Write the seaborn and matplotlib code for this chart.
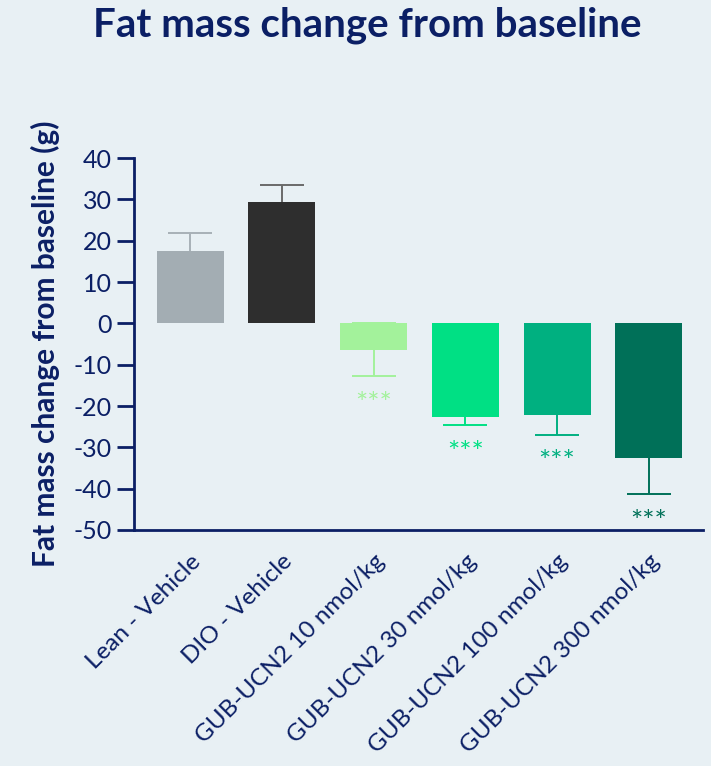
import numpy as np
import pandas as pd
import seaborn as sns
import matplotlib.pyplot as plt

# values
groups = ['Lean - Vehicle', 'DIO - Vehicle', 'GUB-UCN2 10 nmol/kg',
          'GUB-UCN2 30 nmol/kg', 'GUB-UCN2 100 nmol/kg', 'GUB-UCN2 300 nmol/kg']
fat_change = [17.4, 29.4, -6.4, -22.7, -22.1, -32.6]
fat_sem = [4.5, 4.1, 6.4, 2.0, 4.8, 8.8]
signif = ['', '', '***', '***', '***', '***']

bar_colors = ['#A3ADB3', '#2E2E2E', '#A3F29B', '#00E084', '#00B080', '#007058']
err_colors = ['#A8B1B7', '#6A6A6A', '#A3F29B', '#00E084', '#00B080', '#007058']
navy = '#0B1F65'
bg = '#E8F0F4'

sns.set_style('white')
plt.rcParams['font.family'] = ['Lato', 'DejaVu Sans']
plt.rcParams['axes.unicode_minus'] = False

df = pd.DataFrame({'group': groups, 'change': fat_change})

fig = plt.figure(figsize=(7.11, 7.66), dpi=100, facecolor=bg)
ax = fig.add_axes([0.1885, 0.3081, 0.8003, 0.4856])
ax.set_facecolor(bg)

# error bars first so the inner half is hidden by the bar
for i, (m, s) in enumerate(zip(fat_change, fat_sem)):
    ax.errorbar(i, m, yerr=s, fmt='none', ecolor=err_colors[i],
                elinewidth=1.4, capsize=16, capthick=1.4, zorder=1)

sns.barplot(data=df, x='group', y='change', hue='group', palette=bar_colors,
            saturation=1, width=0.73, legend=False, errorbar=None, ax=ax,
            zorder=2, linewidth=0)

# significance stars below the lower whisker
for i, (m, s) in enumerate(zip(fat_change, fat_sem)):
    if signif[i]:
        ax.text(i, m - s - 7.0, signif[i], ha='center', va='center',
                color=bar_colors[i], fontsize=21)

ax.set_ylim(-50, 40)
ax.set_xlim(-0.61, 5.59)
ax.set_yticks(np.arange(-50, 41, 10))

for side in ['top', 'right']:
    ax.spines[side].set_visible(False)
for side in ['left', 'bottom']:
    ax.spines[side].set_color(navy)
    ax.spines[side].set_linewidth(2)

ax.tick_params(axis='y', direction='out', length=12, width=2, color=navy,
               labelcolor=navy, labelsize=18, pad=4, left=True)
ax.tick_params(axis='x', length=0, labelcolor=navy, labelsize=17.5, pad=15)
plt.setp(ax.get_xticklabels(), rotation=45, ha='right', rotation_mode='anchor')

ax.set_xlabel('')
ax.set_ylabel('Fat mass change from baseline (g)', color=navy, fontsize=21.5,
              fontweight='bold', labelpad=10)

fig.suptitle('Fat mass change from baseline', color=navy, fontsize=29,
             fontweight='bold', x=0.517, y=0.992)

fig.savefig('out.png', dpi=100, facecolor=bg)
